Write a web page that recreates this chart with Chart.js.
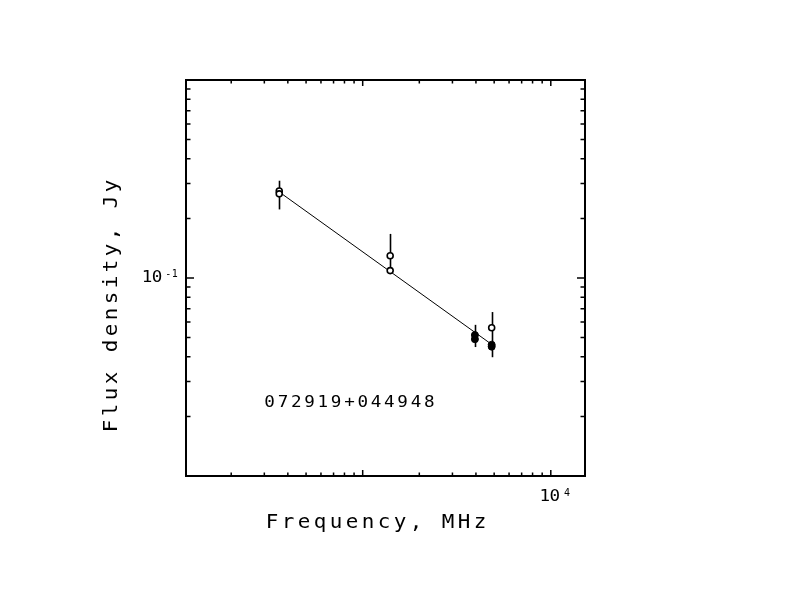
<!DOCTYPE html>
<html>
<head>
<meta charset="utf-8">
<script src="https://cdn.jsdelivr.net/npm/chart.js@4/dist/chart.umd.min.js"></script>
<style>
  html, body { margin: 0; padding: 0; background: #fff; }
  canvas { display: block; }
</style>
</head>
<body>
<canvas id="sed" width="792" height="612"></canvas>
<script>
// Valores (MHz, Jy)
const freqOpen = [360, 360, 1400, 1400, 4850];
const fluxOpen = [0.275, 0.266, 0.1296, 0.109, 0.0561];

const freqFilled = [3950, 3950, 4850, 4850];
const fluxFilled = [0.0515, 0.0491, 0.0460, 0.0450];

// Barras de erro: uma por frequência
const errFreq = [360, 1400, 3950, 4850];
const errLow = [0.222, 0.107, 0.0448, 0.0398];
const errHigh = [0.310, 0.167, 0.058, 0.0673];

// Reta do ajuste (lei de potência)
const fitFreq = [360, 4850];
const fitFlux = [0.272, 0.0462];

const xMin = 115, xMax = 15200;
const yMin = 0.01, yMax = 1;

const sourceName = '072919+044948';
const xTitle = 'Frequency, MHz';
const yTitle = 'Flux density, Jy';

const FONT = '"DejaVu Sans Mono", "Liberation Mono", monospace';

function toPoints(xs, ys) {
  return xs.map((x, i) => ({ x: x, y: ys[i] }));
}

// Escreve o texto caractere a caractere com avanço fixo (fonte tipo Hershey),
// alargando um pouco cada glifo
function drawSpaced(ctx, text, x, y, adv, stretch) {
  const sx = stretch || 1;
  for (let i = 0; i < text.length; i++) {
    ctx.save();
    ctx.translate(x + i * adv + adv / 2, y);
    ctx.scale(sx, 1);
    ctx.fillText(text[i], 0, 0);
    ctx.restore();
  }
}

const errorBars = {
  id: 'errorBars',
  beforeDatasetsDraw(chart) {
    const ctx = chart.ctx;
    const xs = chart.scales.x, ys = chart.scales.y;
    ctx.save();
    ctx.strokeStyle = '#000';
    ctx.lineWidth = 1.6;
    errFreq.forEach((f, i) => {
      const px = Math.round(xs.getPixelForValue(f)) + 0.5;
      ctx.beginPath();
      ctx.moveTo(px, ys.getPixelForValue(errHigh[i]));
      ctx.lineTo(px, ys.getPixelForValue(errLow[i]));
      ctx.stroke();
    });
    ctx.restore();
  }
};

const frameAndTicks = {
  id: 'frameAndTicks',
  afterDraw(chart) {
    const ctx = chart.ctx;
    const a = chart.chartArea;
    const xs = chart.scales.x, ys = chart.scales.y;
    ctx.save();
    ctx.strokeStyle = '#000';
    ctx.fillStyle = '#000';

    // moldura
    ctx.lineWidth = 2;
    ctx.strokeRect(a.left, a.top, a.right - a.left, a.bottom - a.top);

    // marcas do eixo x (embaixo e em cima, para dentro)
    ctx.lineWidth = 1.5;
    for (let e = 2; e <= 4; e++) {
      for (let m = 1; m <= 9; m++) {
        const v = m * Math.pow(10, e);
        if (v < xMin || v > xMax) continue;
        const px = xs.getPixelForValue(v);
        const len = m === 1 ? 6 : 3.5;
        ctx.beginPath();
        ctx.moveTo(px, a.bottom); ctx.lineTo(px, a.bottom - len);
        ctx.moveTo(px, a.top); ctx.lineTo(px, a.top + len);
        ctx.stroke();
      }
    }
    // marcas do eixo y (esquerda e direita)
    for (let e = -2; e <= 0; e++) {
      for (let m = 1; m <= 9; m++) {
        const v = m * Math.pow(10, e);
        if (v <= yMin || v >= yMax) continue;
        const py = ys.getPixelForValue(v);
        const len = m === 1 ? 8 : 4.5;
        ctx.beginPath();
        ctx.moveTo(a.left, py); ctx.lineTo(a.left + len, py);
        ctx.moveTo(a.right, py); ctx.lineTo(a.right - len, py);
        ctx.stroke();
      }
    }

    // rótulos dos eixos
    ctx.textBaseline = 'middle';
    ctx.textAlign = 'center';
    const y01 = ys.getPixelForValue(0.1);
    ctx.font = '16px ' + FONT;
    drawSpaced(ctx, '10', 142, y01, 10, 1.1);
    ctx.font = '10px ' + FONT;
    drawSpaced(ctx, '-1', 165, y01 - 4, 6.5);

    const x1e4 = xs.getPixelForValue(10000);
    ctx.font = '16px ' + FONT;
    drawSpaced(ctx, '10', x1e4 - 11, 497, 10, 1.1);
    ctx.font = '10px ' + FONT;
    drawSpaced(ctx, '4', x1e4 + 13, 493, 6.5);

    // títulos
    ctx.font = '19px ' + FONT;
    drawSpaced(ctx, xTitle, 264, 523, 16, 1.1);

    ctx.save();
    ctx.translate(112, 434);
    ctx.rotate(-Math.PI / 2);
    drawSpaced(ctx, yTitle, 0, 0, 16, 1.1);
    ctx.restore();

    // nome da fonte
    ctx.font = '16px ' + FONT;
    drawSpaced(ctx, sourceName, 263, 403, 13.3, 1.1);

    ctx.restore();
  }
};

new Chart(document.getElementById('sed').getContext('2d'), {
  type: 'scatter',
  data: {
    datasets: [
      {
        label: 'open',
        data: toPoints(freqOpen, fluxOpen),
        pointStyle: 'circle',
        pointRadius: 3,
        pointBorderWidth: 1.6,
        pointBackgroundColor: '#fff',
        pointBorderColor: '#000'
      },
      {
        label: 'filled',
        data: toPoints(freqFilled, fluxFilled),
        pointStyle: 'circle',
        pointRadius: 3.5,
        pointBorderWidth: 1,
        pointBackgroundColor: '#000',
        pointBorderColor: '#000'
      },
      {
        label: 'fit',
        data: toPoints(fitFreq, fitFlux),
        showLine: true,
        borderColor: '#000',
        borderWidth: 1,
        pointRadius: 0
      }
    ]
  },
  options: {
    responsive: false,
    devicePixelRatio: 1,
    animation: false,
    layout: { padding: { left: 186, right: 207, top: 80, bottom: 136 } },
    plugins: { legend: { display: false }, tooltip: { enabled: false } },
    scales: {
      x: { type: 'logarithmic', min: xMin, max: xMax, display: false },
      y: { type: 'logarithmic', min: yMin, max: yMax, display: false }
    }
  },
  plugins: [errorBars, frameAndTicks]
});
</script>
</body>
</html>
